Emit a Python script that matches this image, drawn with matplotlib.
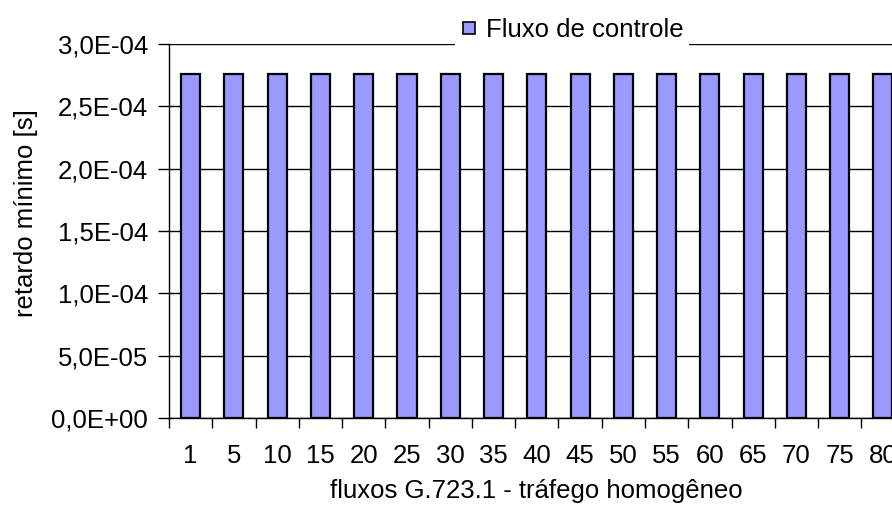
import matplotlib
matplotlib.use('Agg')
import matplotlib.pyplot as plt
from matplotlib.ticker import FuncFormatter, FixedLocator
from matplotlib.lines import Line2D

plt.rcParams['font.family'] = ['Liberation Sans', 'DejaVu Sans']

# fluxos G.723.1 (tráfego homogêneo)
flows = ['1', '5', '10', '15', '20', '25', '30', '35', '40', '45',
         '50', '55', '60', '65', '70', '75', '80']
min_delay = [2.76e-4] * len(flows)
series_name = 'Fluxo de controle'
y_ticks = [0, 5e-5, 1e-4, 1.5e-4, 2e-4, 2.5e-4, 3e-4]

W, H = 892, 513
fig = plt.figure(figsize=(W / 100, H / 100), dpi=100)

# plot area runs a bit past the right edge, like the original crop
ax = fig.add_axes([169 / W, 95 / H, 735.6 / W, 374 / H])

pos = list(range(len(flows)))
ax.bar(pos, min_delay, width=0.44, color='#9999ff', edgecolor='black',
       linewidth=1.6, zorder=3)

ax.set_xlim(-0.5, len(flows) - 0.5)
ax.set_ylim(0, 3e-4)
ax.set_yticks(y_ticks)
ax.yaxis.set_major_formatter(
    FuncFormatter(lambda v, p: ('%.1E' % v).replace('.', ',')))
ax.grid(axis='y', color='black', linewidth=1.0, zorder=0)

ax.set_xticks(pos)
ax.set_xticklabels(flows)
ax.xaxis.set_minor_locator(FixedLocator([i - 0.5 for i in range(len(flows) + 1)]))
ax.tick_params(axis='x', which='major', length=0, pad=19, labelsize=18.5)
ax.tick_params(axis='x', which='minor', length=7, width=1, direction='out')
ax.tick_params(axis='y', length=8, width=1, direction='out', pad=7, labelsize=18.5)

for s in ['top', 'right']:
    ax.spines[s].set_visible(False)
for s in ['left', 'bottom']:
    ax.spines[s].set_linewidth(1.0)

fig.text(26 / W, 1 - 213 / H, 'retardo mínimo [s]', rotation=90,
         ha='center', va='center', fontsize=18.5)
fig.text(536 / W, 1 - 491 / H, 'fluxos G.723.1 - tráfego homogêneo',
         ha='center', va='center', fontsize=18.5)

handle = Line2D([], [], marker='s', linestyle='none', markersize=8,
                markerfacecolor='#9999ff', markeredgecolor='black',
                markeredgewidth=1.2)
leg = fig.legend([handle], [series_name], loc='center',
                 bbox_to_anchor=(572 / W, 1 - 30 / H), frameon=True,
                 fontsize=18.5, handlelength=0.7, handletextpad=0.3,
                 borderpad=0.2, fancybox=False)
leg.get_frame().set_edgecolor('none')
leg.get_frame().set_facecolor('white')
leg.get_frame().set_alpha(1)

fig.savefig('out.png', dpi=100)
